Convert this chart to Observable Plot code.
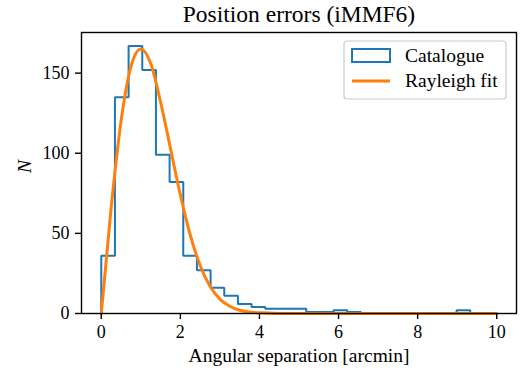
<!DOCTYPE html>
<html>
<head>
<meta charset="utf-8">
<script src="https://cdn.jsdelivr.net/npm/d3@7"></script>
<script src="https://cdn.jsdelivr.net/npm/@observablehq/plot@0.6"></script>
<style>
  html, body { margin: 0; padding: 0; background: white; }
  #chart svg { display: block; }
  #chart svg text { font-family: "Liberation Serif", "Times New Roman", serif !important; }
</style>
</head>
<body>
<div id="chart"></div>
<script>
// ---- Data ----
const titleText = "Position errors (iMMF6)";
const xLabel = "Angular separation [arcmin]";
const yLabel = "N";
const seriesNames = ["Catalogue", "Rayleigh fit"];

// Histogram: 27 equal bins from 0 to the largest separation
const histMin = 0;
const histMax = 9.33;
const histCounts = [36, 135, 167, 152, 99, 82, 36, 27, 16, 11, 6, 4, 3, 3, 3, 1, 1, 2, 1, 0, 0, 0, 0, 0, 0, 0, 2];

// Rayleigh fit curve
const fitX = [0, 0.25, 0.5, 0.75, 1.0, 1.25, 1.5, 1.75, 2.0, 2.25, 2.5, 2.75, 3.0, 3.25, 3.5, 3.75, 4.0, 4.5, 5, 6, 8, 10];
const fitY = [0, 66, 120, 154, 165, 156, 132, 103, 74, 49, 30, 17, 9, 4.5, 2, 0.9, 0.4, 0.05, 0, 0, 0, 0];

const xTicks = [0, 2, 4, 6, 8, 10];
const yTicks = [0, 50, 100, 150];
const xDomain = [-0.5, 10.5];
const yDomain = [0, 175.35];

// ---- Build tables ----
const binW = (histMax - histMin) / histCounts.length;
const histPts = [{x: histMin, y: 0}];
histCounts.forEach((c, i) => {
  histPts.push({x: histMin + i * binW, y: c});
  histPts.push({x: histMin + (i + 1) * binW, y: c});
});
histPts.push({x: histMin + histCounts.length * binW, y: 0});
const fitPts = fitX.map((x, i) => ({x, y: fitY[i]}));

const blue = "#1f77b4", orange = "#ff7f0e";
const font = "Liberation Serif";

const chart = Plot.plot({
  width: 522,
  height: 372,
  marginTop: 32,
  marginLeft: 81,
  marginRight: 6,
  marginBottom: 59,
  style: {fontFamily: font, fontSize: "18px", background: "white", color: "black", overflow: "visible"},
  x: {domain: xDomain},
  y: {domain: yDomain},
  marks: [
    Plot.line(histPts, {x: "x", y: "y", stroke: blue, strokeWidth: 2, strokeLinejoin: "miter"}),
    Plot.line(fitPts, {x: "x", y: "y", stroke: orange, strokeWidth: 3, curve: "monotone-x"}),
    Plot.frame({stroke: "black", strokeWidth: 1.4}),
    Plot.axisX({ticks: xTicks, tickSize: 6, tickPadding: 6, tickFormat: d => String(d), label: null, fontSize: 18, strokeWidth: 1.4}),
    Plot.axisY({ticks: yTicks, tickSize: 6, tickPadding: 6, tickFormat: d => String(d), label: null, fontSize: 18, strokeWidth: 1.4}),
    Plot.text([titleText], {text: d => d, frameAnchor: "top", dy: -11, lineAnchor: "bottom", fontSize: 23.5}),
    Plot.text([xLabel], {text: d => d, frameAnchor: "bottom", dy: 48.5, lineAnchor: "bottom", fontSize: 19.5}),
    Plot.text([yLabel], {text: d => d, frameAnchor: "left", dx: -57, rotate: -90, lineAnchor: "middle", fontSize: 19.5, fontStyle: "italic"})
  ]
});
document.getElementById("chart").appendChild(chart);

// ---- Legend (upper right, inside the axes) ----
const svg = d3.select(chart);
const lg = svg.append("g").attr("font-size", 19.5).attr("text-anchor", "start");
lg.append("rect")
  .attr("x", 344).attr("y", 41).attr("width", 162).attr("height", 58)
  .attr("rx", 3).attr("fill", "white").attr("fill-opacity", 0.8)
  .attr("stroke", "#cccccc").attr("stroke-width", 1.2);
lg.append("rect")
  .attr("x", 352).attr("y", 49).attr("width", 38).attr("height", 13)
  .attr("fill", "none").attr("stroke", blue).attr("stroke-width", 2);
lg.append("line")
  .attr("x1", 352).attr("x2", 390).attr("y1", 81).attr("y2", 81)
  .attr("stroke", orange).attr("stroke-width", 3);
lg.append("text").attr("x", 405).attr("y", 62).attr("text-anchor", "start").text(seriesNames[0]);
lg.append("text").attr("x", 405).attr("y", 87).attr("text-anchor", "start").text(seriesNames[1]);
</script>
</body>
</html>
